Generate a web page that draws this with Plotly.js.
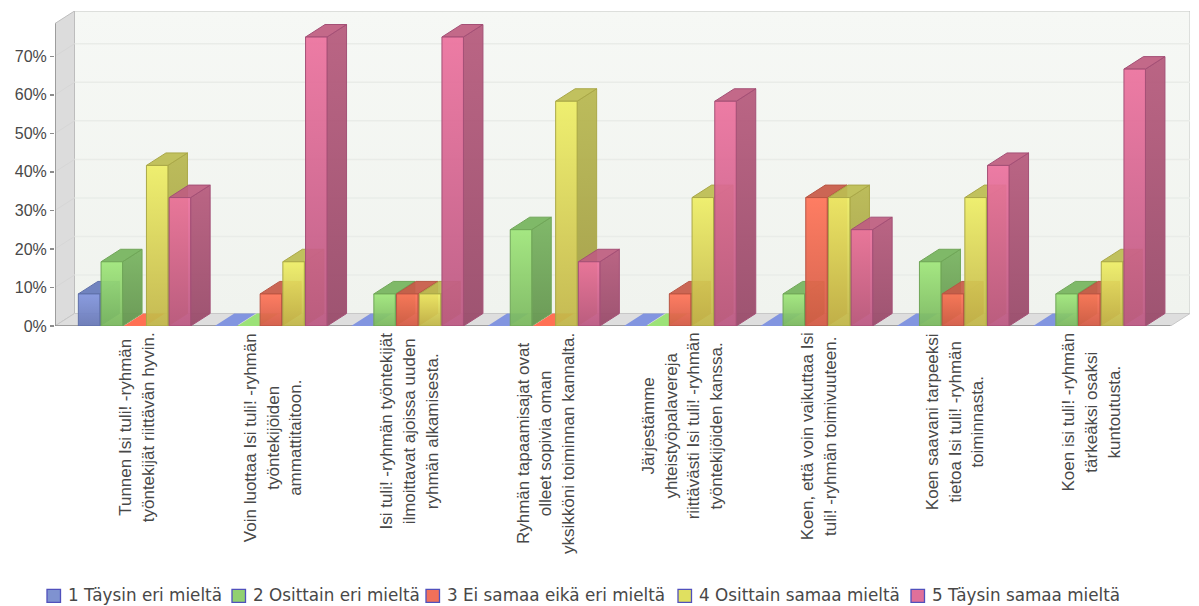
<!DOCTYPE html>
<html>
<head>
<meta charset="utf-8">
<script src="https://cdn.plot.ly/plotly-3.0.1.min.js"></script>
<style>html,body{margin:0;padding:0;background:#fff}</style>
</head>
<body>
<div id="chart"></div>
<script>
const categoryLines = [
  ["Tunnen Isi tuli! -ryhmän","työntekijät riittävän hyvin."],
  ["Voin luottaa Isi tuli! -ryhmän","työntekijöiden","ammattitaitoon."],
  ["Isi tuli! -ryhmän työntekijät","ilmoittavat ajoissa uuden","ryhmän alkamisesta."],
  ["Ryhmän tapaamisajat ovat","olleet sopivia oman","yksikköni toiminnan kannalta."],
  ["Järjestämme","yhteistyöpalavereja","riittävästi Isi tuli! -ryhmän","työntekijöiden kanssa."],
  ["Koen, että voin vaikuttaa Isi","tuli! -ryhmän toimivuuteen."],
  ["Koen saavani tarpeeksi","tietoa Isi tuli! -ryhmän","toiminnasta."],
  ["Koen isi tuli! -ryhmän","tärkeäksi osaksi","kuntoutusta."]
];
const seriesNames = ["1 Täysin eri mieltä","2 Osittain eri mieltä","3 Ei samaa eikä eri mieltä","4 Osittain samaa mieltä","5 Täysin samaa mieltä"];
const s1 = [8.33,0,0,0,0,0,0,0];
const s2 = [16.67,0,8.33,25,0,8.33,16.67,8.33];
const s3 = [0,8.33,8.33,0,8.33,33.33,8.33,8.33];
const s4 = [41.67,16.67,8.33,58.33,33.33,33.33,33.33,16.67];
const s5 = [33.33,75,75,16.67,58.33,25,41.67,66.67];
const seriesValues = [s1,s2,s3,s4,s5];
const yTicks = [0,10,20,30,40,50,60,70];

const palette = [
  {ft:"#8295de",fb:"#6878b6",st:"#667ab4",sb:"#566698",tp:"#667abb",bd:"#5f70a8",flat:"#8295e0",lg:"#7f92d0"},
  {ft:"#9fe67a",fb:"#7ab85e",st:"#78b460",sb:"#62944c",tp:"#76b45e",bd:"#70a658",flat:"#9ce278",lg:"#92d070"},
  {ft:"#ff7458",fb:"#d45a44",st:"#c45846",sb:"#a84a3c",tp:"#c85a48",bd:"#b85644",flat:"#ff7054",lg:"#f0705a"},
  {ft:"#eeee66",fb:"#c2b648",st:"#b8b850",sb:"#a09a40",tp:"#bcbc52",bd:"#aaa848",flat:"#eaea64",lg:"#e0e060"},
  {ft:"#ec729e",fb:"#bc5882",st:"#b65a7c",sb:"#984868",tp:"#be5e80",bd:"#a45076",flat:"#ea709c",lg:"#e0709a"}
];

// layout geometry (px)
const W=1199,H=606,L=55,R=1190,T=11,B=326.3;
const pxPerPct=3.857, groupPx=136.4, firstCenterPx=134.5;
const xMin=(L-firstCenterPx)/groupPx, xMax=(R-firstCenterPx)/groupPx, yMax=(B-T)/pxPerPct;
const dx=19.5/groupPx, dy=12.5/pxPerPct, pitch=22.7/groupPx, bw=21.5/groupPx;

const traces=[];
function poly(xs,ys,fill,line,grad){
  const t={type:"scatter",mode:"lines",x:xs.concat(xs[0]),y:ys.concat(ys[0]),fill:"toself",
    line:{color:line||"rgba(0,0,0,0)",width:line?1:0},hoverinfo:"skip",showlegend:false,cliponaxis:false};
  if(grad){t.fillgradient={type:"vertical",start:grad[0],stop:grad[1],colorscale:[[0,grad[2]],[1,grad[3]]]};}
  else t.fillcolor=fill;
  traces.push(t);
}
function seg(xs,ys,color,width){
  traces.push({type:"scatter",mode:"lines",x:xs,y:ys,line:{color:color,width:width},hoverinfo:"skip",showlegend:false,cliponaxis:false});
}
const xBack0=xMin+dx, xFront1=xMax-dx;
poly([xBack0,xMax,xMax,xBack0],[dy,dy,yMax,yMax],null,"#c4c6c4",[yMax,dy,"#f6f8f5","#f0f3ee"]);
poly([xMin,xBack0,xBack0,xMin],[0,dy,yMax,yMax-dy],"#dcdcdc","#bdbdbd");
poly([xMin,xFront1,xMax,xBack0],[0,0,dy,dy],"#dedede","#c8c8c8");
yTicks.slice(1).forEach(v=>{
  seg([xBack0,xMax],[v+dy,v+dy],"#e9ece8",1.5);
  seg([xMin,xBack0],[v,v+dy],"#d6d6d6",1);
});
seg([xMin,xMin],[0,yMax-dy],"#8c8c8c",1.5);
seg([xMin,xFront1],[0,0],"#8c8c8c",1.5);

function alpha(hex){const n=parseInt(hex.slice(1),16);return `rgba(${n>>16},${(n>>8)&255},${n&255},0.93)`;}
categoryLines.forEach((_,g)=>{
  seriesValues.forEach((vals,s)=>{
    const v=vals[g], c=palette[s];
    const x0=g+(s-2)*pitch-bw/2, x1=x0+bw;
    if(v>0){
      poly([x1,x1+dx,x1+dx,x1],[0,dy,v+dy,v],null,c.bd,[v+dy,0,alpha(c.st),alpha(c.sb)]);
      poly([x0,x1,x1+dx,x0+dx],[v,v,v+dy,v+dy],alpha(c.tp),c.bd);
      poly([x0,x1,x1,x0],[0,0,v,v],null,c.bd,[v,0,alpha(c.ft),alpha(c.fb)]);
    } else {
      poly([x0,x1,x1+dx,x0+dx],[0,0,dy,dy],c.flat,null);
    }
  });
});

const px=x=>(x-L)/(R-L), py=y=>(B-y)/(B-T);
const textColor="#484848";
const annotations=categoryLines.map((lines,i)=>({
  xref:"x",yref:"paper",x:i+0.015,y:py(331),xanchor:"center",yanchor:"top",textangle:-90,showarrow:false,align:"center",
  font:{family:"Liberation Sans",size:17.5,color:textColor},
  text:lines.map(l=>`<span style="font-size:17px">${l}</span>`).join("<br>")
}));
const legendX=[47,232,426,678,911];
const shapes=[];
seriesNames.forEach((n,i)=>{
  shapes.push({type:"rect",xref:"paper",yref:"paper",x0:px(legendX[i]),x1:px(legendX[i]+13.5),y0:py(603),y1:py(590),
    fillcolor:palette[i].lg,line:{color:"#5050bc",width:1.3}});
  annotations.push({xref:"paper",yref:"paper",x:px(legendX[i]+19),y:py(596),xanchor:"left",yanchor:"middle",showarrow:false,
    text:n,font:{family:"DejaVu Sans",size:16.8,color:textColor}});
});

Plotly.newPlot("chart",traces,{
  width:W,height:H,autosize:false,showlegend:false,
  margin:{l:L,r:W-R,t:T,b:H-B,pad:0},
  paper_bgcolor:"#fff",plot_bgcolor:"rgba(0,0,0,0)",
  font:{family:"Liberation Sans",size:16,color:textColor},
  xaxis:{type:"linear",range:[xMin,xMax],showgrid:false,zeroline:false,showline:false,showticklabels:false,ticks:"",fixedrange:true},
  yaxis:{type:"linear",range:[0,yMax],showgrid:false,zeroline:false,showline:false,tickmode:"array",tickvals:yTicks,
    ticktext:yTicks.map(v=>v+"%"),ticks:"outside",ticklen:4,tickwidth:1.5,tickcolor:"#8c8c8c",tickfont:{family:"Liberation Sans",size:16,color:textColor},fixedrange:true},
  annotations,shapes
},{displayModeBar:false,staticPlot:true});
</script>
</body>
</html>
